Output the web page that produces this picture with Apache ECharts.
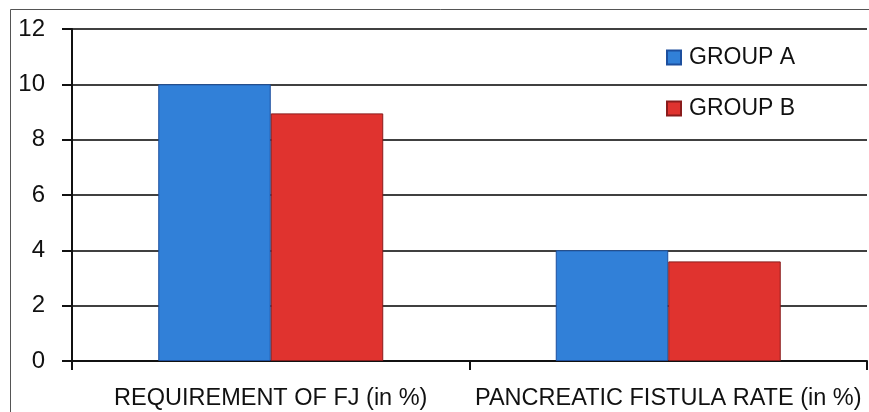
<!DOCTYPE html>
<html>
<head>
<meta charset="utf-8">
<script src="https://cdn.jsdelivr.net/npm/echarts@6/dist/echarts.min.js"></script>
<style>html,body{margin:0;padding:0;background:#fff}#c{width:869px;height:412px}</style>
</head>
<body>
<div id="c"></div>
<script>
const categories = ['REQUIREMENT OF FJ (in %)', 'PANCREATIC FISTULA RATE (in %)'];
const groupA = [10, 4];
const groupB = [8.95, 3.6];
const yTicks = [0, 2, 4, 6, 8, 10, 12];

const chart = echarts.init(document.getElementById('c'), null, {renderer: 'canvas'});
const FONT = '"Liberation Sans", Arial, sans-serif';
chart.setOption({
  animation: false,
  backgroundColor: '#fff',
  graphic: [{
    type: 'rect', z: 100,
    shape: {x: 10.5, y: 9.5, width: 900, height: 500},
    style: {fill: 'none', stroke: '#555', lineWidth: 1}
  }],
  grid: {left: 72, right: 2, top: 29, bottom: 51, containLabel: false},
  legend: {
    orient: 'vertical', left: 666, top: 46, padding: 0,
    itemWidth: 14, itemHeight: 14, itemGap: 28,
    icon: 'rect',
    textStyle: {fontFamily: FONT, fontSize: 23, color: '#111', padding: [0, 0, 0, 3]},
    data: ['GROUP A', 'GROUP B']
  },
  xAxis: {
    type: 'category', data: categories,
    axisLine: {lineStyle: {color: '#111', width: 2}},
    axisTick: {show: true, length: 9, lineStyle: {color: '#111', width: 2}},
    axisLabel: {fontFamily: FONT, fontSize: 23.5, color: '#111', margin: 26, interval: 0}
  },
  yAxis: {
    type: 'value', min: yTicks[0], max: yTicks[yTicks.length - 1], interval: 2,
    axisLine: {show: true, lineStyle: {color: '#111', width: 2}},
    axisTick: {show: true, length: 10, lineStyle: {color: '#111', width: 2}},
    axisLabel: {fontFamily: FONT, fontSize: 24, color: '#111', margin: 27},
    splitLine: {show: true, lineStyle: {color: '#000', width: 1.6}}
  },
  series: [
    {
      name: 'GROUP A', type: 'bar', data: groupA,
      barWidth: '28.3%', barGap: '0%',
      itemStyle: {color: '#3180D8', borderColor: '#1d4f9e', borderWidth: 1}
    },
    {
      name: 'GROUP B', type: 'bar', data: groupB,
      barWidth: '28.3%', barGap: '0%',
      itemStyle: {color: '#E0332F', borderColor: '#8a1c1c', borderWidth: 1}
    }
  ]
});
</script>
</body>
</html>
